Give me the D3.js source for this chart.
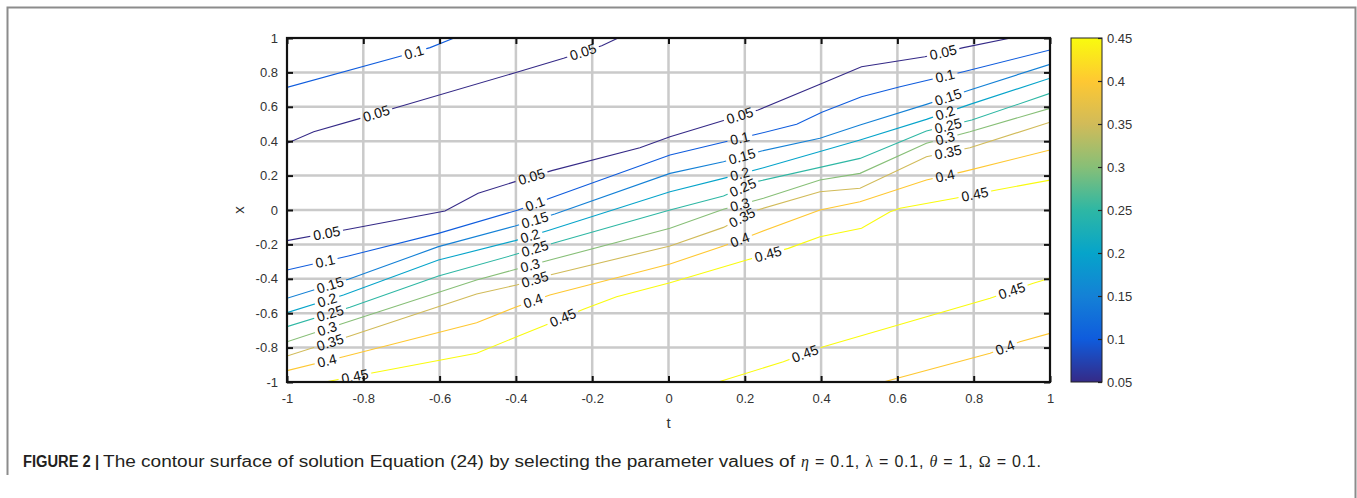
<!DOCTYPE html>
<html>
<head>
<meta charset="utf-8">
<script src="https://cdn.jsdelivr.net/npm/d3@7"></script>
<style>
  body { margin: 0; background: #fff; }
  svg text { font-family: "Liberation Sans", Arial, sans-serif; }
</style>
</head>
<body>
<svg id="fig" width="1357" height="498"></svg>
<script>
// contour levels and the parula colour at each level
const levels = [0.05, 0.1, 0.15, 0.2, 0.25, 0.3, 0.35, 0.4, 0.45];
const parula = ["#352a87", "#0f5cdd", "#1481d6", "#06a4ca", "#2eb7a4", "#87bf77", "#d1bb59", "#fec832", "#f9fb0e"];
const tTicks = [-1, -0.8, -0.6, -0.4, -0.2, 0, 0.2, 0.4, 0.6, 0.8, 1];
const xTicks = [-1, -0.8, -0.6, -0.4, -0.2, 0, 0.2, 0.4, 0.6, 0.8, 1];
const barTicks = [0.05, 0.1, 0.15, 0.2, 0.25, 0.3, 0.35, 0.4, 0.45];

// contour polylines, [t, x]
const line005a = [[-1, 0.388], [-0.93, 0.455], [-0.817, 0.527], [-0.715, 0.595], [-0.402, 0.798], [-0.275, 0.882], [-0.175, 0.955], [-0.132, 1]];
const line005b = [[-1, -0.178], [-0.839, -0.112], [-0.586, -0.006], [-0.499, 0.097], [-0.402, 0.165], [-0.306, 0.229], [-0.075, 0.362], [0.004, 0.426], [0.235, 0.581], [0.397, 0.731], [0.506, 0.833], [0.672, 0.891], [0.773, 0.944], [0.897, 1]];
const line010a = [[-1, 0.713], [-0.708, 0.891], [-0.625, 0.944], [-0.562, 1]];
const line010b = [[-1, -0.349], [-0.839, -0.267], [-0.603, -0.136], [-0.394, 0], [-0.311, 0.068], [0.004, 0.32], [0.231, 0.44], [0.336, 0.498], [0.402, 0.568], [0.506, 0.659], [0.607, 0.717], [0.773, 0.804], [1, 0.93]];
const line015 = [[-1, -0.513], [-0.839, -0.403], [-0.603, -0.213], [-0.402, -0.093], [-0.298, -0.023], [0.004, 0.213], [0.144, 0.281], [0.244, 0.343], [0.397, 0.417], [0.502, 0.494], [0.676, 0.614], [0.79, 0.698], [1, 0.847]];
const line020 = [[-1, -0.597], [-0.852, -0.494], [-0.603, -0.291], [-0.402, -0.178], [-0.311, -0.116], [0.004, 0.106], [0.144, 0.184], [0.249, 0.246], [0.502, 0.407], [0.676, 0.527], [0.79, 0.614], [1, 0.766]];
const line025 = [[-1, -0.678], [-0.835, -0.566], [-0.603, -0.384], [-0.407, -0.262], [-0.298, -0.19], [0.004, 0], [0.144, 0.081], [0.231, 0.165], [0.502, 0.3], [0.676, 0.459], [0.795, 0.523], [1, 0.678]];
const line030 = [[-1, -0.766], [-0.852, -0.659], [-0.503, -0.407], [-0.407, -0.349], [-0.311, -0.291], [0.004, -0.106], [0.144, 0.004], [0.249, 0.068], [0.397, 0.174], [0.502, 0.213], [0.676, 0.388], [0.79, 0.455], [1, 0.591]];
const line035 = [[-1, -0.849], [-0.835, -0.733], [-0.503, -0.488], [-0.398, -0.436], [-0.311, -0.378], [0.004, -0.209], [0.144, -0.101], [0.227, -0.004], [0.397, 0.106], [0.502, 0.126], [0.676, 0.31], [0.79, 0.362], [1, 0.51]];
const line040a = [[-1, -0.934], [-0.852, -0.853], [-0.503, -0.655], [-0.398, -0.562], [-0.311, -0.494], [0.004, -0.314], [0.144, -0.209], [0.231, -0.136], [0.397, 0], [0.502, 0.048], [0.676, 0.174], [0.773, 0.223], [1, 0.349]];
const line040b = [[0.563, -1], [0.843, -0.833], [0.921, -0.766], [1, -0.717]];
const line045a = [[-0.9, -1], [-0.774, -0.946], [-0.503, -0.833], [-0.398, -0.737], [-0.328, -0.674], [-0.223, -0.577], [-0.136, -0.504], [0.004, -0.423], [0.205, -0.291], [0.314, -0.223], [0.397, -0.155], [0.506, -0.106], [0.581, -0.01], [0.607, 0.01], [0.751, 0.068], [0.86, 0.116], [1, 0.174]];
const line045b = [[0.13, -1], [0.301, -0.882], [0.406, -0.795], [0.602, -0.669], [0.843, -0.513], [0.956, -0.426], [1, -0.397]];

// where along t each inline label sits
const contours = [
  { level: 0.05, pts: line005a, labels: [-0.766, -0.224] },
  { level: 0.05, pts: line005b, labels: [-0.896, -0.359, 0.187, 0.72] },
  { level: 0.1, pts: line010a, labels: [-0.667] },
  { level: 0.1, pts: line010b, labels: [-0.9, -0.35, 0.187, 0.725] },
  { level: 0.15, pts: line015, labels: [-0.887, -0.35, 0.193, 0.733] },
  { level: 0.2, pts: line020, labels: [-0.895, -0.363, 0.187, 0.725] },
  { level: 0.25, pts: line025, labels: [-0.887, -0.35, 0.195, 0.733] },
  { level: 0.3, pts: line030, labels: [-0.895, -0.363, 0.187, 0.725] },
  { level: 0.35, pts: line035, labels: [-0.887, -0.35, 0.193, 0.733] },
  { level: 0.4, pts: line040a, labels: [-0.895, -0.355, 0.187, 0.725] },
  { level: 0.4, pts: line040b, labels: [0.882] },
  { level: 0.45, pts: line045a, labels: [-0.822, -0.277, 0.261, 0.803] },
  { level: 0.45, pts: line045b, labels: [0.358, 0.9] }
];

const svg = d3.select("#fig");
const tScale = d3.scaleLinear().domain([-1, 1]).range([287, 1050]);
const xScale = d3.scaleLinear().domain([-1, 1]).range([382, 38]);
const barScale = d3.scaleLinear().domain([0.05, 0.45]).range([382, 38]);
const colour = d3.scaleLinear().domain(levels).range(parula);

// outer figure frame (open at the bottom left like the page crop)
svg.append("path")
  .attr("d", "M7.5,475V7.5H1355.5V498")
  .attr("fill", "none").attr("stroke", "#8c8c8c").attr("stroke-width", 2);

// grid
const grid = svg.append("g").attr("stroke", "#cacaca").attr("stroke-width", 2.5);
grid.selectAll(".gv").data(tTicks.slice(1, -1)).join("line")
  .attr("x1", d => tScale(d)).attr("x2", d => tScale(d))
  .attr("y1", xScale(-1)).attr("y2", xScale(1));
grid.selectAll(".gh").data(xTicks.slice(1, -1)).join("line")
  .attr("y1", d => xScale(d)).attr("y2", d => xScale(d))
  .attr("x1", tScale(-1)).attr("x2", tScale(1));

// label positions along each line
function pointAt(pts, t) {
  for (let i = 1; i < pts.length; i++) {
    if (t <= pts[i][0] || i === pts.length - 1) {
      const [t0, x0] = pts[i - 1], [t1, x1] = pts[i];
      const f = (t - t0) / (t1 - t0);
      const ang = Math.atan2(xScale(x1) - xScale(x0), tScale(t1) - tScale(t0)) * 180 / Math.PI;
      return { px: tScale(t), py: xScale(x0 + f * (x1 - x0)), ang: ang };
    }
  }
}

const labelData = [];
contours.forEach(c => c.labels.forEach(t => labelData.push(Object.assign({ level: c.level }, pointAt(c.pts, t)))));

const defs = svg.append("defs");
const clip = defs.append("clipPath").attr("id", "plotClip");
clip.append("rect").attr("x", tScale(-1)).attr("y", xScale(1))
  .attr("width", tScale(1) - tScale(-1)).attr("height", xScale(-1) - xScale(1));
const mask = defs.append("mask").attr("id", "gaps").attr("maskUnits", "userSpaceOnUse")
  .attr("x", 0).attr("y", 0).attr("width", 1357).attr("height", 498);
mask.append("rect").attr("width", 1357).attr("height", 498).attr("fill", "#fff");

// labels
const labels = svg.append("g").attr("clip-path", "url(#plotClip)")
  .selectAll("text").data(labelData).join("text")
  .attr("transform", d => `translate(${d.px},${d.py}) rotate(${d.ang})`)
  .attr("text-anchor", "middle").attr("dy", "0.35em")
  .style("font-size", "14px").attr("fill", "#111")
  .text(d => String(d.level));

labels.each(function (d) {
  const w = this.getComputedTextLength() + 6;
  mask.append("rect")
    .attr("x", -w / 2).attr("y", -6).attr("width", w).attr("height", 12)
    .attr("transform", `translate(${d.px},${d.py}) rotate(${d.ang})`)
    .attr("fill", "#000");
});

// contour lines
const path = d3.line().x(d => tScale(d[0])).y(d => xScale(d[1]));
svg.append("g").attr("clip-path", "url(#plotClip)")
  .append("g").attr("mask", "url(#gaps)")
  .selectAll("path").data(contours).join("path")
  .attr("d", d => path(d.pts))
  .attr("fill", "none")
  .attr("stroke", d => colour(d.level))
  .attr("stroke-width", 1.1);

// axes with inward ticks on all four sides
const fmt = d => String(d);
const axStyle = g => {
  g.select(".domain").remove();
  g.selectAll(".tick line").attr("stroke", "#111").attr("stroke-width", 2);
  g.selectAll(".tick text").style("font-size", "13px").attr("fill", "#333");
};
svg.append("g").attr("transform", `translate(0,${xScale(-1)})`)
  .call(d3.axisBottom(tScale).tickValues(tTicks).tickFormat(fmt).tickSize(-6).tickPadding(12)).call(axStyle);
svg.append("g").attr("transform", `translate(0,${xScale(1)})`)
  .call(d3.axisTop(tScale).tickValues(tTicks).tickFormat("").tickSize(-6)).call(axStyle);
svg.append("g").attr("transform", `translate(${tScale(-1)},0)`)
  .call(d3.axisLeft(xScale).tickValues(xTicks).tickFormat(fmt).tickSize(-6).tickPadding(9)).call(axStyle);
svg.append("g").attr("transform", `translate(${tScale(1)},0)`)
  .call(d3.axisRight(xScale).tickValues(xTicks).tickFormat("").tickSize(-6)).call(axStyle);

svg.append("rect")
  .attr("x", tScale(-1)).attr("y", xScale(1))
  .attr("width", tScale(1) - tScale(-1)).attr("height", xScale(-1) - xScale(1))
  .attr("fill", "none").attr("stroke", "#111").attr("stroke-width", 2.2);

svg.append("text").attr("x", tScale(0)).attr("y", 428)
  .attr("text-anchor", "middle").style("font-size", "15px").attr("fill", "#333").text("t");
svg.append("text").attr("transform", `translate(244,${xScale(0)}) rotate(-90)`)
  .attr("text-anchor", "middle").style("font-size", "15px").attr("fill", "#333").text("x");

// colour bar
const grad = defs.append("linearGradient").attr("id", "parula")
  .attr("x1", 0).attr("y1", 1).attr("x2", 0).attr("y2", 0);
grad.selectAll("stop").data(levels).join("stop")
  .attr("offset", (d, i) => i / (levels.length - 1))
  .attr("stop-color", d => colour(d));
const barX = 1071, barW = 31;
svg.append("rect").attr("x", barX).attr("y", barScale(0.45))
  .attr("width", barW).attr("height", barScale(0.05) - barScale(0.45))
  .attr("fill", "url(#parula)").attr("stroke", "#222").attr("stroke-width", 1);
svg.append("g").attr("transform", `translate(${barX + barW},0)`)
  .call(d3.axisRight(barScale).tickValues(barTicks).tickFormat(fmt).tickSize(-4).tickPadding(5))
  .call(g => {
    g.select(".domain").remove();
    g.selectAll(".tick line").attr("stroke", "#222").attr("stroke-width", 1.2);
    g.selectAll(".tick text").style("font-size", "13px").attr("fill", "#333");
  });

// caption
svg.append("text").attr("x", 23).attr("y", 467)
  .attr("textLength", 76).attr("lengthAdjust", "spacingAndGlyphs")
  .style("font-size", "16px").style("font-weight", "bold").attr("fill", "#231f20")
  .text("FIGURE 2 |");
svg.append("text").attr("x", 103).attr("y", 467)
  .attr("textLength", 692).attr("lengthAdjust", "spacingAndGlyphs")
  .style("font-size", "16px").attr("fill", "#231f20")
  .text("The contour surface of solution Equation (24) by selecting the parameter values of");
const mathText = svg.append("text").attr("x", 801).attr("y", 467)
  .attr("textLength", 240).attr("lengthAdjust", "spacing")
  .style("font-size", "16px").attr("fill", "#231f20");
[["η", "i"], [" = 0.1, ", ""], ["λ", "u"], [" = 0.1, ", ""], ["θ", "i"], [" = 1, ", ""], ["Ω", "u"], [" = 0.1.", ""]]
  .forEach(([s, st]) => {
    const ts = mathText.append("tspan").text(s);
    if (st) ts.style("font-family", "'Liberation Serif', serif");
    if (st === "i") ts.style("font-style", "italic");
  });
</script>
</body>
</html>
